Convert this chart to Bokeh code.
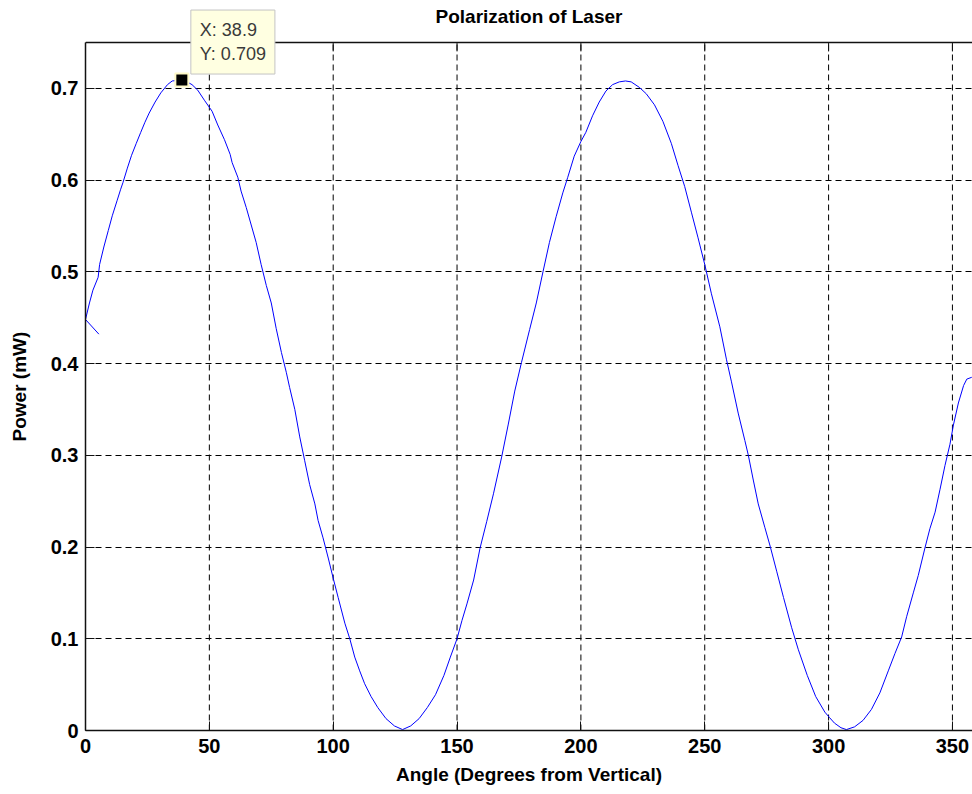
from math import pi
from bokeh.plotting import figure
from bokeh.models import Range1d, FixedTicker, Label, Span
from bokeh.embed import file_html
from bokeh.resources import INLINE

# Measured curve: angle (degrees from vertical) vs power (mW)
angle = [5.4, 0.0, 1.6, 3.0, 5.1, 5.7, 7.4, 9.2, 10.8, 12.8, 14.2, 15.1, 16.9, 18.6,
         20.5, 22.3, 24.0, 25.7, 28.1, 30.4, 33.1, 35.0, 38.9, 41.0, 43.0, 45.3,
         48.0, 51.1, 53.4, 56.1, 58.4, 59.2, 61.5, 62.8, 64.9, 66.9, 68.9, 70.9,
         73.0, 75.0, 77.0, 79.1, 81.1, 82.4, 84.5, 86.5, 88.5, 90.5, 92.6, 93.9,
         95.9, 98.0, 100.0, 102.0, 104.7, 106.7, 108.7, 110.7, 112.7, 115.3, 118.0,
         121.3, 124.7, 128.0, 131.3, 134.7, 138.0, 141.3, 144.7, 147.3, 150.0,
         152.0, 154.0, 156.7, 159.3, 162.0, 164.7, 168.0, 170.7, 173.3, 176.0,
         179.3, 182.0, 184.7, 187.3, 190.0, 192.7, 194.7, 197.3, 200.0, 202.0,
         204.7, 207.4, 210.1, 212.8, 215.5, 218.0, 220.3, 223.6, 226.4, 229.7,
         233.1, 236.5, 239.2, 241.9, 244.6, 247.3, 250.0, 252.7, 256.1, 258.8,
         260.8, 263.5, 266.2, 267.6, 269.6, 271.6, 274.3, 276.4, 279.1, 281.8,
         285.1, 287.8, 291.4, 294.8, 298.5, 300.4, 302.4, 305.0, 307.2, 310.5,
         313.9, 317.3, 320.7, 324.1, 326.8, 329.5, 331.5, 334.2, 336.2, 338.9,
         340.9, 343.0, 345.0, 347.0, 349.0, 350.4, 352.4, 354.5, 355.8, 357.8]
power = [0.432, 0.448, 0.466, 0.480, 0.494, 0.508, 0.527, 0.545, 0.561, 0.578, 0.590,
         0.597, 0.613, 0.627, 0.640, 0.652, 0.663, 0.673, 0.685, 0.695, 0.704, 0.708,
         0.709, 0.707, 0.704, 0.698, 0.687, 0.675, 0.660, 0.644, 0.628, 0.619, 0.603,
         0.588, 0.570, 0.551, 0.532, 0.508, 0.485, 0.466, 0.438, 0.412, 0.390, 0.374,
         0.350, 0.320, 0.294, 0.268, 0.247, 0.229, 0.210, 0.188, 0.166, 0.145, 0.117,
         0.100, 0.080, 0.065, 0.051, 0.037, 0.025, 0.013, 0.005, 0.001, 0.005, 0.013,
         0.025, 0.039, 0.060, 0.080, 0.100, 0.120, 0.138, 0.164, 0.199, 0.228, 0.258,
         0.298, 0.334, 0.370, 0.401, 0.437, 0.466, 0.500, 0.532, 0.560, 0.586, 0.603,
         0.626, 0.642, 0.652, 0.670, 0.685, 0.697, 0.704, 0.707, 0.708, 0.707, 0.701,
         0.694, 0.682, 0.664, 0.640, 0.616, 0.593, 0.565, 0.537, 0.508, 0.476, 0.440,
         0.404, 0.380, 0.346, 0.316, 0.300, 0.273, 0.247, 0.221, 0.201, 0.173, 0.145,
         0.112, 0.088, 0.060, 0.037, 0.020, 0.014, 0.008, 0.003, 0.001, 0.004, 0.011,
         0.023, 0.041, 0.065, 0.084, 0.102, 0.124, 0.150, 0.169, 0.199, 0.220, 0.238,
         0.263, 0.289, 0.312, 0.333, 0.357, 0.376, 0.383, 0.385]

x_ticks = [0, 50, 100, 150, 200, 250, 300, 350]
y_ticks = [0, 0.1, 0.2, 0.3, 0.4, 0.5, 0.6, 0.7]
y_tick_labels = {0: "0", 0.1: "0.1", 0.2: "0.2", 0.3: "0.3", 0.4: "0.4",
                 0.5: "0.5", 0.6: "0.6", 0.7: "0.7"}

title_text = "Polarization of Laser"
x_label = "Angle (Degrees from Vertical)"
y_label = "Power (mW)"

tip_x = 38.9
tip_y = 0.709

# axes limits (the box), and the view range that leaves room for the title above it
X_MIN, X_MAX = 0, 358.1
Y_MIN, Y_MAX = 0, 0.75
Y_VIEW_TOP = 0.7957

FONT = "Liberation Sans"
INK = "#111111"
NBSP = "\u00a0"

p = figure(width=972, height=794, output_backend="svg", toolbar_location=None,
           x_range=Range1d(X_MIN, X_MAX), y_range=Range1d(Y_MIN, Y_VIEW_TOP),
           min_border_left=85, min_border_right=0, min_border_top=0,
           min_border_bottom=64, background_fill_color="white",
           border_fill_color="white", outline_line_color=None)

xt = FixedTicker(ticks=x_ticks)
yt = FixedTicker(ticks=y_ticks)

for ax in (p.xaxis[0], p.yaxis[0]):
    ax.major_label_text_font = FONT
    ax.major_label_text_font_style = "bold"
    ax.major_label_text_font_size = "20px"
    ax.major_label_text_color = "black"
    ax.axis_label_text_font = FONT
    ax.axis_label_text_font_style = "bold"
    ax.axis_label_text_font_size = "19px"
    ax.axis_label_text_color = "black"
    ax.major_tick_in = 9
    ax.major_tick_out = 0
    ax.minor_tick_line_color = None
    ax.axis_line_width = 1.5
    ax.axis_line_color = INK
    ax.major_tick_line_color = INK

p.xaxis[0].ticker = xt
p.yaxis[0].ticker = yt
p.yaxis[0].bounds = (Y_MIN, Y_MAX)
p.yaxis[0].major_label_overrides = y_tick_labels
p.xaxis[0].axis_label = x_label
# trailing no-break spaces keep the label centred on the axes box, not the whole view
p.yaxis[0].axis_label = y_label + NBSP * 8
p.xaxis[0].major_label_standoff = 8
p.xaxis[0].axis_label_standoff = 8
p.yaxis[0].major_label_standoff = 7
p.yaxis[0].axis_label_standoff = 18

# horizontal grid from the y ticks
p.ygrid.ticker = yt
p.ygrid[0].grid_line_color = "black"
p.ygrid[0].grid_line_dash = "6 4"
p.ygrid[0].grid_line_width = 1
# vertical grid lines only inside the axes box
p.xgrid.visible = False
p.segment(x0=x_ticks, y0=[Y_MIN] * len(x_ticks), x1=x_ticks, y1=[Y_MAX] * len(x_ticks),
          line_color="black", line_dash="6 4", line_width=1)

# top edge of the axes box with inward ticks
p.add_layout(Span(location=Y_MAX, dimension="width", line_color=INK, line_width=1.5))
p.ray(x=x_ticks, y=[Y_MAX] * len(x_ticks), length=9, length_units="screen",
      angle=-pi / 2, line_color=INK, line_width=1)

# the curve
p.line(angle, power, line_color="#0000ff", line_width=1)

# title
p.add_layout(Label(x=(X_MIN + X_MAX) / 2, y=Y_VIEW_TOP, y_offset=-5, text=title_text,
                   text_align="center", text_baseline="top", text_font=FONT,
                   text_font_style="bold", text_font_size="19px", text_color="black"))

# data tip
p.scatter([tip_x], [tip_y], marker="square", size=13, fill_color="black",
          line_color="#fff9c8", line_width=2)
p.add_layout(Label(x=tip_x, y=tip_y, text=f"X: {tip_x}\nY: {tip_y}",
                   x_offset=9, y_offset=6, text_align="left", text_baseline="bottom",
                   text_font=FONT, text_font_size="18px", text_color="#3a3a3a",
                   background_fill_color="#ffffe1", border_line_color="#c4c4c4",
                   border_line_width=1, padding=(9, 10)))

open("out.html", "w").write(file_html(p, INLINE))
